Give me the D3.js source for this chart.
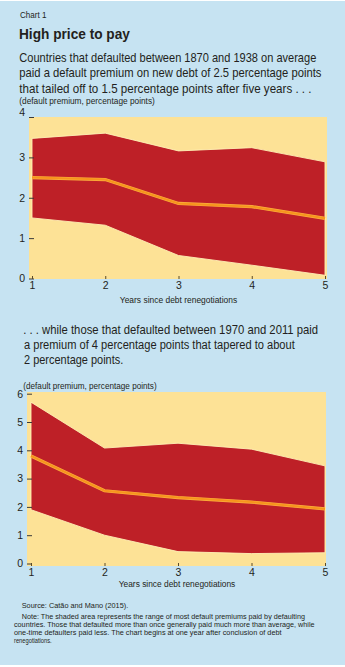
<!DOCTYPE html>
<html><head><meta charset="utf-8">
<script src="https://cdn.jsdelivr.net/npm/d3@7/dist/d3.min.js"></script>
<style>
html,body{margin:0;padding:0;background:#fff;}
svg{display:block;}
</style></head>
<body>
<svg id="chart" width="345" height="667"></svg>
<script>
// ---- data ----
const years = [1, 2, 3, 4, 5];
const yTicks1 = [0, 1, 2, 3, 4];
const yTicks2 = [0, 1, 2, 3, 4, 5, 6];
const upper1 = [3.47, 3.60, 3.16, 3.24, 2.89];
const lower1 = [1.50, 1.32, 0.57, 0.33, 0.08];
const mean1  = [2.50, 2.45, 1.86, 1.78, 1.49];
const upper2 = [5.70, 4.08, 4.25, 4.04, 3.45];
const lower2 = [1.90, 1.00, 0.42, 0.35, 0.38];
const mean2  = [3.80, 2.57, 2.33, 2.17, 1.93];

const FONT = '"Liberation Sans Narrow","Liberation Sans",Roboto,sans-serif';
const BLUE = "#C6E3F2", YELLOW = "#FDE296", RED = "#BE2027", ORANGE = "#F7941D", INK = "#231F20";

const svg = d3.select("#chart");
svg.append("rect").attr("x", 0).attr("y", 1).attr("width", 345).attr("height", 664).attr("fill", BLUE);

// text fitted horizontally to a measured width (scaled, not clipped)
function txt(x, y, s, size, opts = {}) {
  const g = svg.append("g").attr("transform", `translate(${x},${y})`);
  const t = g.append("text").attr("x", 0).attr("y", 0).text(s)
    .attr("font-family", FONT).attr("font-size", size)
    .attr("fill", opts.fill || INK)
    .attr("font-weight", opts.weight || "normal");
  if (opts.anchor) t.attr("text-anchor", opts.anchor);
  if (opts.width) {
    const L = t.node().getComputedTextLength();
    if (L > 0) g.attr("transform", `translate(${x},${y}) scale(${opts.width / L},1)`);
  }
  return t;
}

// header texts
txt(20, 18.3, "Chart 1", 9.5, {width: 26.5});
txt(19, 39, "High price to pay", 15, {weight: "bold", width: 111});
txt(19.3, 61.5, "Countries that defaulted between 1870 and 1938 on average", 12.5, {width: 297.4});
txt(19.3, 77, "paid a default premium on new debt of 2.5 percentage points", 12.5, {width: 302.4});
txt(19.3, 92.5, "that tailed off to 1.5 percentage points after five years . . .", 12.5, {width: 292.4});
txt(19.3, 103.5, "(default premium, percentage points)", 8.5, {width: 135.7});

txt(23.3, 334.3, ". . . while those that defaulted between 1970 and 2011 paid", 12.5, {width: 295});
txt(24, 349.3, "a premium of 4 percentage points that tapered to about", 12.5, {width: 271});
txt(24, 364, "2 percentage points.", 12.5, {width: 99.3});
txt(23.3, 389, "(default premium, percentage points)", 8.5, {width: 133.4});

// footer
txt(21.7, 608, "Source: Catão and Mano (2015).", 7, {width: 106.6});
txt(21.7, 619, "Note: The shaded area represents the range of most default premiums paid by defaulting", 6.9, {width: 283.3});
txt(14, 627, "countries. Those that defaulted more than once generally paid much more than average, while", 6.9, {width: 301});
txt(14, 635, "one-time defaulters paid less. The chart begins at one year after conclusion of debt", 6.9, {width: 267.7});
txt(14, 643, "renegotiations.", 6.9, {width: 37.7});

function panel(cfg) {
  const {left, right, top, bottom, yMax, yTop, yZero, xOne, xFive, ticks, up, lo, mean, xTitleY, xTitleW} = cfg;
  const x = d3.scaleLinear().domain([1, 5]).range([xOne, xFive]);
  const y = d3.scaleLinear().domain([0, yMax]).range([yZero, yTop]);
  const g = svg.append("g");
  g.append("rect").attr("x", left).attr("y", top).attr("width", right - left).attr("height", bottom - top).attr("fill", YELLOW);

  const rows = years.map((yr, i) => ({yr, u: up[i], l: lo[i], m: mean[i]}));
  g.append("path").datum(rows)
    .attr("d", d3.area().x(d => x(d.yr)).y0(d => y(d.l)).y1(d => y(d.u)))
    .attr("fill", RED).attr("stroke", "#FFF0B5").attr("stroke-width", 0.9).attr("stroke-linejoin", "round");
  g.append("path").datum(rows)
    .attr("d", d3.line().x(d => x(d.yr)).y(d => y(d.m)))
    .attr("fill", "none").attr("stroke", "#FBB040").attr("stroke-width", 3.2);
  g.append("path").datum(rows)
    .attr("d", d3.line().x(d => x(d.yr)).y(d => y(d.m)))
    .attr("fill", "none").attr("stroke", ORANGE).attr("stroke-width", 2);

  const ya = g.append("g").attr("transform", `translate(${left},0)`)
    .call(d3.axisLeft(y).tickValues(ticks).tickSize(-5).tickPadding(4).tickFormat(d3.format("d")));
  ya.select(".domain").remove();
  ya.selectAll("line").attr("stroke", "#3a3a3a").attr("stroke-width", 1);
  ya.selectAll("text").attr("font-family", FONT).attr("font-size", 10.5).attr("fill", INK);
  if (cfg.topLabelShift) ya.selectAll("text").filter(d => d === yMax).attr("y", cfg.topLabelShift);

  const xa = g.append("g").attr("transform", `translate(0,${bottom})`)
    .call(d3.axisBottom(x).tickValues(years).tickSize(-3).tickPadding(3).tickFormat(d3.format("d")));
  xa.select(".domain").remove();
  xa.selectAll("line").attr("stroke", "#5a4a2a").attr("stroke-width", 1);
  xa.selectAll("text").attr("font-family", FONT).attr("font-size", 10.5).attr("fill", INK);

  txt((left + right) / 2 + 0.5, xTitleY, "Years since debt renegotiations", 9, {anchor: "middle", width: xTitleW});
}

panel({left: 29, right: 327, top: 117, bottom: 279, yMax: 4, yTop: 117, yZero: 278.5,
  xOne: 32, xFive: 325, ticks: yTicks1, up: upper1, lo: lower1, mean: mean1,
  xTitleY: 303.3, xTitleW: 117.4, topLabelShift: -5});
panel({left: 27, right: 326, top: 392, bottom: 566, yMax: 6, yTop: 393.7, yZero: 563.5,
  xOne: 31, xFive: 325, ticks: yTicks2, up: upper2, lo: lower2, mean: mean2,
  xTitleY: 587, xTitleW: 116.7});
</script>
</body></html>
